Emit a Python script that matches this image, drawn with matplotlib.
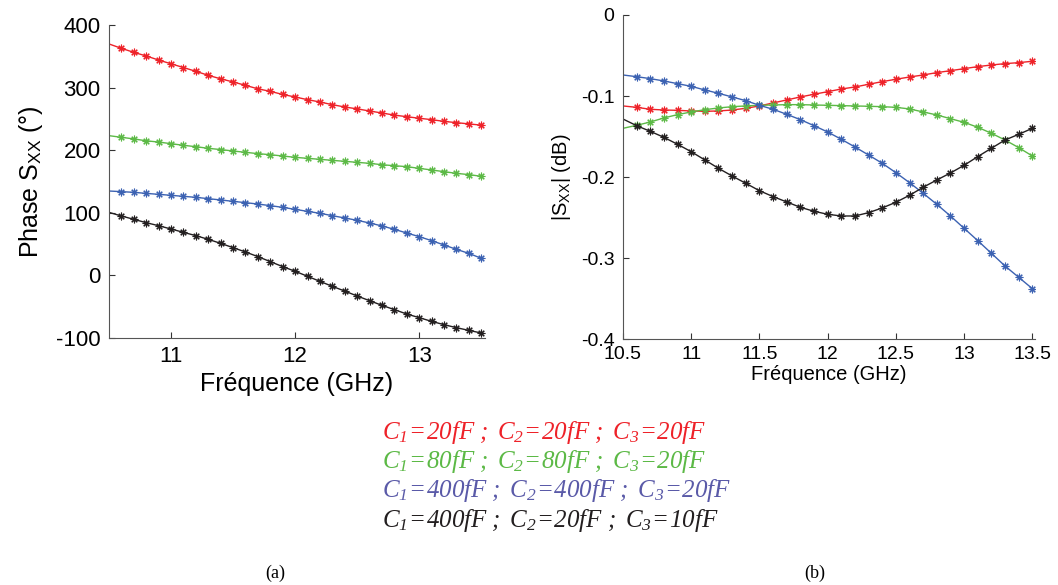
import matplotlib.pyplot as plt
import numpy as np

plt.rcParams['font.family'] = ['Liberation Sans', 'DejaVu Sans']
plt.rcParams['mathtext.fontset'] = 'custom'
plt.rcParams['mathtext.it'] = 'Liberation Serif:italic'
plt.rcParams['mathtext.rm'] = 'Liberation Serif:italic'
plt.rcParams['mathtext.sf'] = 'Liberation Sans'
plt.rcParams['axes.unicode_minus'] = False

# frequency grid (GHz), 10.5 .. 13.5 step 0.1
freq = [10.5, 10.6, 10.7, 10.8, 10.9, 11.0, 11.1, 11.2, 11.3, 11.4, 11.5,
        11.6, 11.7, 11.8, 11.9, 12.0, 12.1, 12.2, 12.3, 12.4, 12.5,
        12.6, 12.7, 12.8, 12.9, 13.0, 13.1, 13.2, 13.3, 13.4, 13.5]

# phase S_XX (deg)
phase_red = [369.7, 362.7, 356.3, 350.5, 344, 338, 332, 326, 319.6, 314, 309,
             303.6, 298, 294, 289, 285, 280.7, 277, 272.7, 269, 266,
             262.6, 259.4, 256, 253.5, 251, 248.8, 246, 244, 242, 240]
phase_green = [223.2, 220.6, 218, 215, 213, 210.4, 207.8, 205.6, 203, 201, 198.7,
               196.6, 194.5, 192.8, 190.7, 188.6, 187, 185.4, 183.8, 182.2, 180.6,
               179, 176.8, 175.2, 173.7, 171, 168.4, 165.7, 163, 161, 158.3]
phase_blue = [134.8, 133.8, 132.7, 131, 129.5, 127.9, 126.3, 124.7, 122.6, 120.5, 118.3,
              116.2, 114, 111.4, 108.7, 105.5, 102.3, 99.2, 95.4, 91.7, 88,
              83.7, 79, 73.6, 67.7, 61.9, 55.5, 48.6, 41.6, 35.2, 27.3]
phase_black = [100.7, 94.9, 89.6, 84.2, 79.4, 74.1, 68.8, 63.5, 57.6, 51.2, 44.3,
               37.4, 30, 22, 14, 6.6, -1.4, -9.5, -17.5, -25, -32.9,
               -40.4, -47.8, -54.7, -61.7, -67.5, -73.4, -78.7, -83.5, -87.8, -92]

# |S_XX| (dB)
mag_red = [-0.1122, -0.1139, -0.1163, -0.1172, -0.1176, -0.1184, -0.1188, -0.1184, -0.1172, -0.1151, -0.1122,
           -0.1085, -0.1048, -0.1011, -0.0978, -0.0946, -0.0913, -0.0888, -0.0855, -0.0822, -0.0793,
           -0.0765, -0.0740, -0.0711, -0.0687, -0.0662, -0.0637, -0.0617, -0.0600, -0.0588, -0.0571]
mag_green = [-0.1398, -0.1361, -0.132, -0.127, -0.1229, -0.1196, -0.1168, -0.1147, -0.1131, -0.1122, -0.1114,
             -0.111, -0.1106, -0.1106, -0.111, -0.1114, -0.1118, -0.1122, -0.1126, -0.1131, -0.1139,
             -0.1159, -0.1196, -0.1233, -0.1279, -0.1324, -0.1385, -0.1459, -0.1542, -0.1636, -0.1739]
mag_blue = [-0.0740, -0.0761, -0.0785, -0.0814, -0.0847, -0.0880, -0.0925, -0.0966, -0.1011, -0.1057, -0.1114,
            -0.1163, -0.1225, -0.1291, -0.1365, -0.1443, -0.1533, -0.1628, -0.1727, -0.1829, -0.1945,
            -0.2068, -0.2199, -0.2335, -0.2479, -0.2631, -0.2783, -0.2939, -0.3096, -0.3235, -0.3375]
mag_black = [-0.1283, -0.1365, -0.1435, -0.1509, -0.1595, -0.1686, -0.1788, -0.1891, -0.1986, -0.2076, -0.2167,
             -0.2240, -0.2306, -0.2372, -0.2421, -0.2458, -0.2479, -0.2479, -0.2438, -0.2380, -0.2310,
             -0.2224, -0.2125, -0.2035, -0.1949, -0.1854, -0.1747, -0.1644, -0.1542, -0.1472, -0.1398]

line_colors = ['#ee2229', '#5cb946', '#3c62b2', '#231f20']
legend_colors = ['#ee2229', '#5cb946', '#5a5aa8', '#231f20']
legend_texts = [
    r'$C_1\!=\!20fF\ ;\ C_2\!=\!20fF\ ;\ C_3\!=\!20fF$',
    r'$C_1\!=\!80fF\ ;\ C_2\!=\!80fF\ ;\ C_3\!=\!20fF$',
    r'$C_1\!=\!400fF\ ;\ C_2\!=\!400fF\ ;\ C_3\!=\!20fF$',
    r'$C_1\!=\!400fF\ ;\ C_2\!=\!20fF\ ;\ C_3\!=\!10fF$',
]

fig = plt.figure(figsize=(10.58, 5.85), dpi=100)
ax1 = fig.add_axes([0.1030, 0.4222, 0.3554, 0.5351])
ax2 = fig.add_axes([0.5888, 0.4200, 0.3895, 0.5544])

star = (8, 2, 0)
for ax, series in [(ax1, [phase_red, phase_green, phase_blue, phase_black]),
                   (ax2, [mag_red, mag_green, mag_blue, mag_black])]:
    for s, c in zip(series, line_colors):
        ax.plot(freq, s, color=c, lw=1.0, marker=star, markersize=5.5,
                markeredgewidth=0.8, markevery=slice(1, None))
    for side in ['top', 'right']:
        ax.spines[side].set_visible(False)
    for side in ['left', 'bottom']:
        ax.spines[side].set_color('#555555')
    ax.tick_params(direction='in', length=4, color='#333333')

ax1.set_xlim(10.5, 13.53)
ax1.set_ylim(-100, 400)
ax1.set_xticks([11, 12, 13])
ax1.set_yticks([-100, 0, 100, 200, 300, 400])
ax1.tick_params(labelsize=16, pad=6)
ax1.set_xlabel('Fréquence (GHz)', fontsize=18, labelpad=3)
ax1.set_ylabel(r'Phase S$_\mathsf{XX}$ (°)', fontsize=18, labelpad=8)

ax2.set_xlim(10.5, 13.52)
ax2.set_ylim(-0.4, 0)
ax2.set_xticks([10.5, 11, 11.5, 12, 12.5, 13, 13.5])
ax2.set_xticklabels(['10.5', '11', '11.5', '12', '12.5', '13', '13.5'])
ax2.set_yticks([-0.4, -0.3, -0.2, -0.1, 0])
ax2.set_yticklabels(['-0.4', '-0.3', '-0.2', '-0.1', '0'])
ax2.tick_params(axis='y', labelsize=14, pad=6)
ax2.tick_params(axis='x', labelsize=14, pad=5)
ax2.set_xlabel('Fréquence (GHz)', fontsize=14.5, labelpad=1)
ax2.set_ylabel(r'|S$_\mathsf{XX}$| (dB)', fontsize=14.5, labelpad=6)

for i, (t, c) in enumerate(zip(legend_texts, legend_colors)):
    fig.text(382 / 1058, 1 - (432 + i * 29.5) / 585, t, color=c, fontsize=18,
             ha='left', va='center')

fig.text(275 / 1058, 1 - 573 / 585, '(a)', family='Liberation Serif', fontsize=13,
         ha='center', va='center')
fig.text(815 / 1058, 1 - 573 / 585, '(b)', family='Liberation Serif', fontsize=13,
         ha='center', va='center')

fig.savefig('out.png', dpi=100)
